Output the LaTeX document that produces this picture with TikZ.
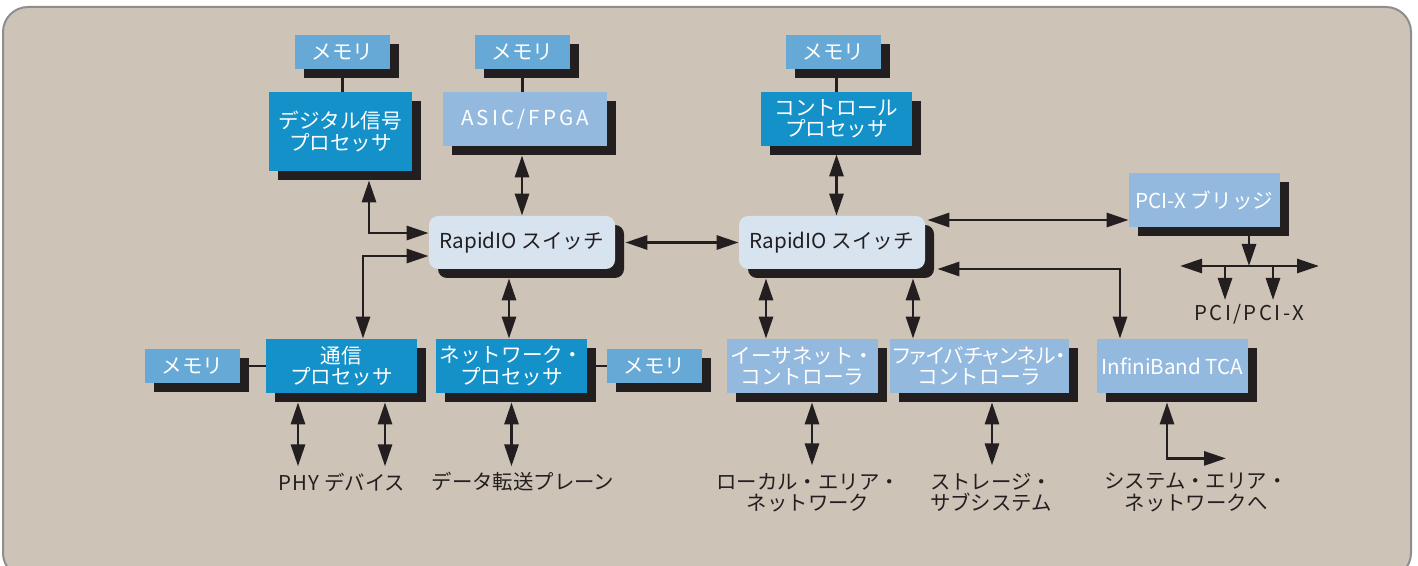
\documentclass[tikz,border=0pt]{standalone}
\usepackage{fontspec}
\setmainfont{Noto Sans CJK JP}
\usetikzlibrary{arrows.meta,calc,shadows}
\definecolor{bgc}{HTML}{CDC3B7}
\definecolor{frc}{HTML}{8E8E8E}
\definecolor{darkc}{HTML}{1591C9}
\definecolor{memc}{HTML}{66A9D6}
\definecolor{lightc}{HTML}{93B9DF}
\definecolor{swc}{HTML}{D8E3F0}
\definecolor{shd}{HTML}{231F20}
\definecolor{txt}{HTML}{231F20}
\tikzset{
  shad/.style={drop shadow={shadow xshift=4.5pt, shadow yshift=-4.5pt, fill=shd, opacity=1}},
  boxbase/.style={shad, draw=none, inner sep=0pt, align=center, text=white,
    font=\fontsize{10.3}{10.6}\selectfont},
  mem/.style={boxbase, fill=memc, minimum width=47.5pt, minimum height=17pt},
  dark/.style={boxbase, fill=darkc, minimum width=75.5pt, minimum height=27pt},
  light/.style={boxbase, fill=lightc, minimum width=75.5pt, minimum height=27pt},
  sw/.style={boxbase, fill=swc, text=txt, rounded corners=4.5pt, minimum width=93pt, minimum height=26.5pt},
  lbl/.style={inner sep=0pt, align=center, text=txt, font=\fontsize{10.2}{10.6}\selectfont},
  ln/.style={draw=txt, line width=1.45pt},
  arr/.style={ln, {Triangle[length=11pt,width=7pt]}-{Triangle[length=11pt,width=7pt]}},
  sarr/.style={ln, -{Triangle[length=11pt,width=7pt]}}
}
\begin{document}
\begin{tikzpicture}[x=0.5pt,y=-0.5pt]
\useasboundingbox (0,0) rectangle (1418,566);
\fill[white] (0,0) rectangle (1418,566);
\draw[fill=bgc, draw=frc, line width=1pt, rounded corners=12.5pt] (3,7) rectangle (1411,578);

% top row
\node[mem] (memA) at (342.5,52) {メモリ};
\node[dark, minimum width=71.5pt, minimum height=39.5pt] (dsp) at (340.5,131.5) {デジタル信号\\プロセッサ};
\node[mem] (memB) at (522.5,52) {メモリ};
\node[light, minimum width=82pt] (asic) at (525,119) {\addfontfeature{LetterSpace=15}ASIC/FPGA};
\node[mem] (memC) at (833.5,52) {メモリ};
\node[dark] (ctrl) at (836.5,119) {コントロール\\プロセッサ};

% switches
\node[sw] (sw1) at (522,242.5) {RapidIO スイッチ};
\node[sw] (sw2) at (832,242.5) {RapidIO スイッチ};
\node[light] (bridge) at (1204.5,200) {PCI-X ブリッジ};

% bottom row
\node[mem] (memD) at (192.5,366) {メモリ};
\node[dark] (comm) at (341.5,366) {通信\\プロセッサ};
\node[dark] (net) at (511.5,366) {ネットワーク・\\プロセッサ};
\node[mem] (memE) at (654.5,366) {メモリ};
\node[light] (eth) at (802.5,366) {イーサネット・\\コントローラ};
\node[light, minimum width=89.5pt] (fc) at (979.5,366) {{\addfontfeature{RawFeature=+palt}ファイバチャンネル・}\\コントローラ};
\node[light] (ib) at (1172.5,366) {InfiniBand TCA};

% labels
\node[lbl] (phy) at (342,482) {{\addfontfeature{LetterSpace=6}PHY}\ デバイス};
\node[lbl] (dtp) at (523,482) {データ転送プレーン};
\node[lbl] (lan) at (808,492.5) {ローカル・エリア・\\ネットワーク};
\node[lbl] (sto) at (991,492.5) {ストレージ・\\サブシステム};
\node[lbl] (san) at (1196,492.5) {システム・エリア・\\ネットワークへ};
\node[lbl] (pci) at (1249,314) {\addfontfeature{LetterSpace=12}PCI/PCI-X};

% memory links
\draw[ln] (memA.south) -- (memA.south |- dsp.north);
\draw[ln] (memB.south) -- (memB.south |- asic.north);
\draw[ln] (ctrl.north |- memC.south) -- (ctrl.north);
\draw[ln] (memD.east) -- (comm.west);
\draw[ln] (net.east) -- (memE.west);

% switch links
\draw[arr] ($(sw1.north |- asic.south)+(0,9)$) -- (sw1.north);
\draw[arr] ($(ctrl.south)+(0,8)$) -- (ctrl.south |- sw2.north);
\draw[arr] ($(sw1.east)+(10,0)$) -- (sw2.west);
\draw[arr] ($(dsp.south)+(28.5,9)$) |- ($(sw1.west)+(0,-9.5)$);
\draw[arr] ($(comm.north)+(21.5,0)$) |- ($(sw1.west)+(0,13.5)$);
\draw[arr] ($(sw1.south)+(-13,9)$) -- ($(net.north)+(-2.5,0)$);
\draw[arr] ($(eth.north |- sw2.south)+(-36.5,9)$) -- ($(eth.north)+(-36.5,0)$);
\draw[arr] ($(fc.north |- sw2.south)+(-66.5,9)$) -- ($(fc.north)+(-66.5,0)$);
\draw[arr] ($(sw2.east |- bridge.west)+(2,20)$) -- ($(bridge.west)+(0,20)$);
\draw[arr] ($(sw2.east)+(12,26.5)$) -| ($(ib.north)+(-52.5,0)$);

% PCI bus
\coordinate (busL) at (1180,266);
\coordinate (busR) at (1319,266);
\coordinate (brd) at ($(bridge.south)+(44.5,9)$);
\draw[sarr] (brd) -- (brd |- busL);
\draw[arr] (busL) -- (busR);
\coordinate (d1) at (1225,266);
\coordinate (d2) at (1273,266);
\draw[sarr] (d1) -- ++(0,34);
\draw[sarr] (d2) -- ++(0,34);

% down arrows
\draw[arr] ($(comm.south)+(-43.5,9)$) -- ++(0,64);
\draw[arr] ($(comm.south)+(43.5,9)$) -- ++(0,64);
\draw[arr] ($(net.south)+(0,9)$) -- ++(0,64);
\draw[arr] ($(eth.south)+(9.5,9)$) -- ++(0,63);
\draw[arr] ($(fc.south)+(12.5,9)$) -- ++(0,63);
\draw[arr] ($(ib.south)+(-5.5,9)$) |- ++(59,56);
\end{tikzpicture}
\end{document}
